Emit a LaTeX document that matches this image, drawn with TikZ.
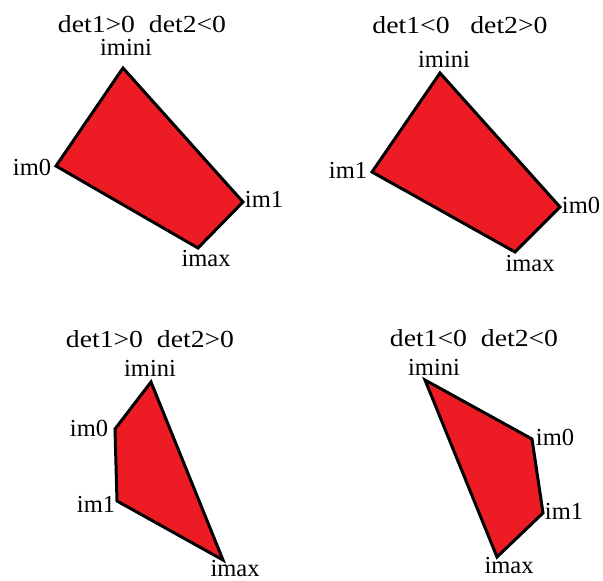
\documentclass[tikz,border=0pt]{standalone}
\usepackage{fontspec}
\setmainfont{Liberation Serif}
\usepackage{tikz}
\definecolor{paintred}{HTML}{ED1C24}
\tikzset{quad/.style={fill=paintred,draw=black,line width=3pt},
  lab/.style={anchor=base,inner sep=0pt,font=\fontsize{24.5}{29}\selectfont}}
\newcommand{\dets}[1]{\scalebox{1.13}[1]{#1}}

\begin{document}
\begin{tikzpicture}[x=1pt,y=-1pt]
\useasboundingbox (0,0) rectangle (603,581);

% Top left: det1>0, det2<0.
\foreach \n/\x/\y/\lx/\ly in {imini/123/68/126/55, im0/56/166/32/175,
  im1/243/202/264/207, imax/198/248/206/266}{
  \coordinate (a\n) at (\x,\y);
  \node[lab] (la\n) at (\lx,\ly) {\n};
}
\draw[quad] (aimini) -- (aim1) -- (aimax) -- (aim0) -- cycle;
\node[lab] (adet) at (142,32) {\dets{det1>0~~det2<0}};

% Top right: det1<0, det2>0.
\foreach \n/\x/\y/\lx/\ly in {imini/440/73/444/67, im1/372/172/348/178,
  im0/560/207/581/213, imax/515/252/530/271}{
  \coordinate (b\n) at (\x,\y);
  \node[lab] (lb\n) at (\lx,\ly) {\n};
}
\draw[quad] (bimini) -- (bim0) -- (bimax) -- (bim1) -- cycle;
\node[lab] (bdet) at (460,33) {\dets{det1<0~~~det2>0}};

% Bottom left: det1>0, det2>0.
\foreach \n/\x/\y/\lx/\ly in {imini/151/382/150/376, im0/115/429/89/436,
  im1/117/501/96/512, imax/223/560/235/576}{
  \coordinate (c\n) at (\x,\y);
  \node[lab] (lc\n) at (\lx,\ly) {\n};
}
\draw[quad] (cimini) -- (cimax) -- (cim1) -- (cim0) -- cycle;
\node[lab] (cdet) at (150,347) {\dets{det1>0~~det2>0}};

% Bottom right: det1<0, det2<0.
\foreach \n/\x/\y/\lx/\ly in {imini/425/380/434/375, im0/532/439/555/445,
  im1/543/513/564/519, imax/497/557/509/573}{
  \coordinate (d\n) at (\x,\y);
  \node[lab] (ld\n) at (\lx,\ly) {\n};
}
\draw[quad] (dimini) -- (dim0) -- (dim1) -- (dimax) -- cycle;
\node[lab] (ddet) at (474,346) {\dets{det1<0~~det2<0}};
\end{tikzpicture}
\end{document}
